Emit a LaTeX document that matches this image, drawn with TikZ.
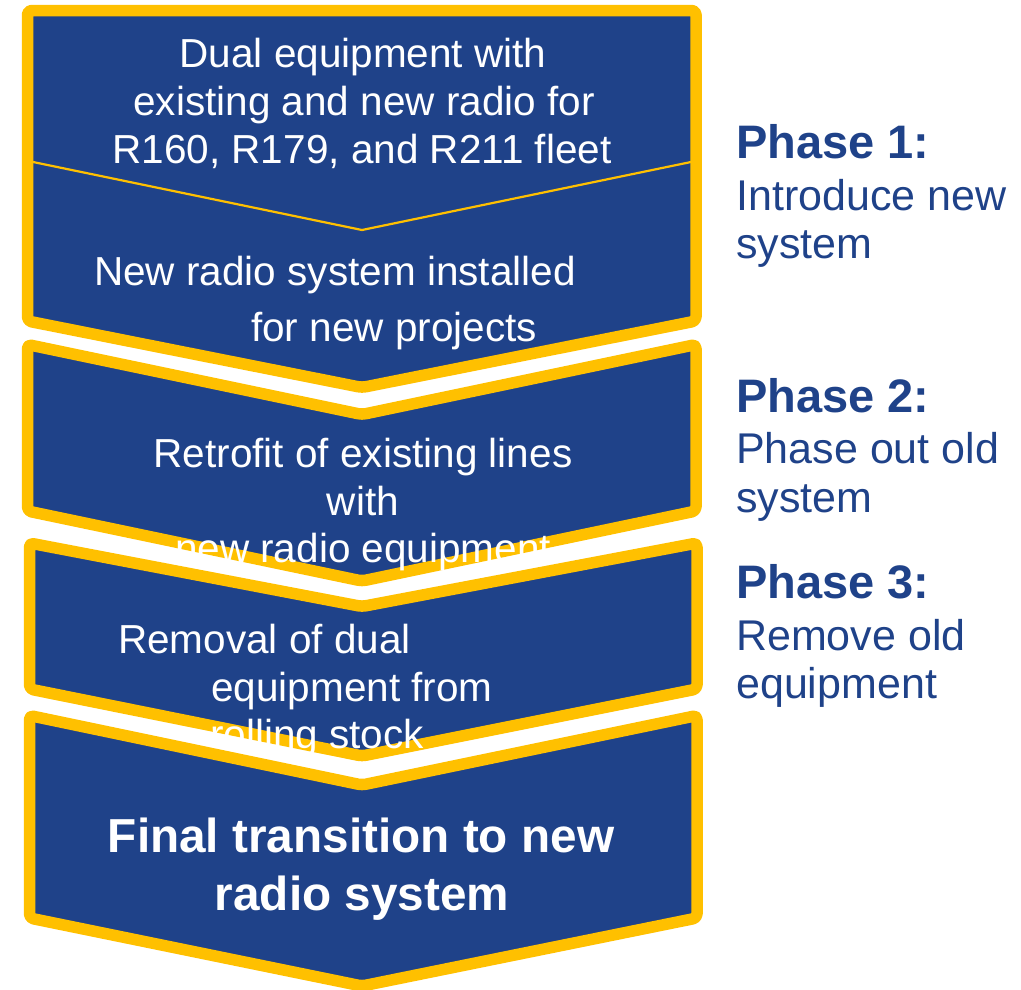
\documentclass[tikz,border=0pt]{standalone}
\usepackage{fontspec}
\setmainfont{Liberation Sans}
\definecolor{mtablue}{RGB}{31,66,137}
\definecolor{mtayellow}{RGB}{255,192,0}
\begin{document}
\begin{tikzpicture}[x=1pt,y=-1pt,
  chev/.style={fill=mtablue, draw=mtayellow, line width=11.5pt, rounded corners=4pt, line join=round},
  boxtxt/.style={text=white, inner sep=0pt, font=\fontsize{40.5}{47}\selectfont},
  finaltxt/.style={text=white, inner sep=0pt, font=\fontsize{47.7}{56}\bfseries\selectfont},
  phasehead/.style={text=mtablue, inner sep=0pt, anchor=base west, font=\fontsize{47}{52}\bfseries\selectfont},
  phasetxt/.style={text=mtablue, inner sep=0pt, anchor=base west, font=\fontsize{43}{50}\selectfont}]
\useasboundingbox (0,0) rectangle (1021,989);
% chevron shapes
\draw[chev] (27.5,10.5) -- (696,10.5) -- (696,321) -- (362,387.5) -- (27.5,321) -- cycle;
\draw[chev] (27.5,344.5) -- (362,414.5) -- (696,344.5) -- (696,511) -- (362,581) -- (27.5,511) -- cycle;
\draw[chev] (29.5,543) -- (362,606.5) -- (697,543) -- (697,689) -- (362,756) -- (29.5,689) -- cycle;
\draw[chev] (29.5,715.5) -- (362,785) -- (697,715.5) -- (697,918) -- (362,986) -- (29.5,918) -- cycle;
% thin divider in first shape
\draw[mtayellow, line width=2.2pt] (33,162) -- (362,230) -- (691,162);
% box texts
\node[boxtxt, anchor=base] (t1a) at (363,67) {Dual equipment with};
\node[boxtxt, anchor=base] (t1b) at (364,115) {existing and new radio for};
\node[boxtxt, anchor=base] (t1c) at (362,163) {R160, R179, and R211 fleet};
\node[boxtxt, anchor=base] (t1d) at (335,285) {New radio system installed};
\node[boxtxt, anchor=base] (t1e) at (394,341) {for new projects};
\node[boxtxt, anchor=base] (t2a) at (363,467) {Retrofit of existing lines};
\node[boxtxt, anchor=base] (t2b) at (363,515) {with};
\node[boxtxt, anchor=base] (t2c) at (363,562) {new radio equipment};
\node[boxtxt, anchor=base west] (t3a) at (118,653) {Removal of dual};
\node[boxtxt, anchor=base west] (t3b) at (211,701) {equipment from};
\node[boxtxt, anchor=base west] (t3c) at (210,748) {rolling stock};
\node[finaltxt, anchor=base] (t4a) at (361,852) {Final transition to new};
\node[finaltxt, anchor=base] (t4b) at (362,910) {radio system};
% phase labels
\node[phasehead] (p1h) at (736,158) {Phase 1:};
\node[phasetxt] (p1a) at (736,210) {Introduce new};
\node[phasetxt] (p1b) at (736,258) {system};
\node[phasehead] (p2h) at (736,412) {Phase 2:};
\node[phasetxt] (p2a) at (736,463) {Phase out old};
\node[phasetxt] (p2b) at (736,512) {system};
\node[phasehead] (p3h) at (736,598) {Phase 3:};
\node[phasetxt] (p3a) at (736,650) {Remove old};
\node[phasetxt] (p3b) at (736,698) {equipment};
\end{tikzpicture}
\end{document}
